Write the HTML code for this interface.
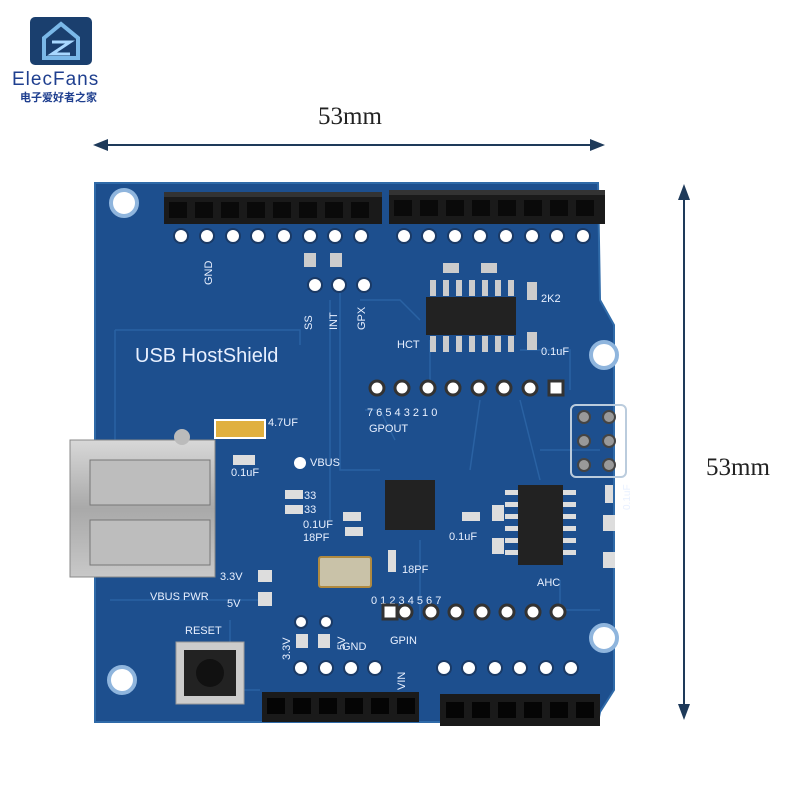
<!DOCTYPE html>
<html><head><meta charset="utf-8"><style>
body{margin:0;background:#fff;width:800px;height:800px;overflow:hidden}
svg{display:block}
text{font-family:"Liberation Sans","Noto Sans CJK SC",sans-serif}
</style></head><body>
<svg width="800" height="800" viewBox="0 0 800 800" xmlns="http://www.w3.org/2000/svg">
<defs>
<linearGradient id="usb" x1="0" x2="0" y1="0" y2="1"><stop offset="0" stop-color="#d8d8d8"/><stop offset="0.5" stop-color="#a9a9a9"/><stop offset="1" stop-color="#c8c8c8"/></linearGradient>
</defs>
<!-- logo -->
<rect x="30" y="17" width="62" height="48" rx="5" fill="#1a3f6e"/>
<path d="M44 38 L61 24 L78 38 L78 58 L44 58 Z" fill="none" stroke="#7ab8e8" stroke-width="4"/>
<path d="M52 42 H70 L52 54 H70" fill="none" stroke="#a8d8ff" stroke-width="3"/>
<text x="12" y="85" font-size="19" fill="#1f3f8f" letter-spacing="1">ElecFans</text>
<text x="20" y="101" font-size="11" fill="#1f3f8f" font-weight="bold">电子爱好者之家</text>
<!-- dimension -->
<text x="350" y="124" font-size="25" text-anchor="middle" fill="#222" style="font-family:'Liberation Serif',serif">53mm</text>
<line x1="98" y1="145" x2="600" y2="145" stroke="#1e3a5a" stroke-width="2"/>
<path d="M93 145 L108 139 L108 151 Z M605 145 L590 139 L590 151 Z" fill="#1e3a5a"/>
<line x1="684" y1="190" x2="684" y2="714" stroke="#1e3a5a" stroke-width="2"/>
<path d="M684 184 L678 200 L690 200 Z M684 720 L678 704 L690 704 Z" fill="#1e3a5a"/>
<text x="738" y="475" font-size="25" text-anchor="middle" fill="#222" style="font-family:'Liberation Serif',serif">53mm</text>
<!-- board -->
<path d="M95 183 L598 183 L600 300 L614 325 L614 690 L600 712 L598 722 L95 722 Z" fill="#1d4f8e"/>
<path d="M95 183 L598 183 L600 300 L614 325 L614 690 L600 712 L598 722 L95 722 Z" fill="none" stroke="#2f6aa8" stroke-width="2"/>
<g fill="none" stroke="#2a62a3" stroke-width="1.5">
<path d="M115 330 H300 V345"/><path d="M115 330 V470"/><path d="M330 300 V520"/><path d="M340 290 V470 H380"/>
<path d="M360 300 L400 300 L420 320"/><path d="M430 340 V380"/><path d="M480 400 L470 470"/><path d="M520 400 L540 480"/>
<path d="M420 540 V620"/><path d="M560 580 V610 H600"/><path d="M110 600 H260"/><path d="M230 620 V690 H260"/>
<path d="M395 440 L380 410 L365 410"/><path d="M520 350 H570 V390"/><path d="M540 450 L600 450"/>
</g>
<!-- mounting holes -->
<g fill="#fff" stroke="#8fb5dd" stroke-width="4">
<circle cx="124" cy="203" r="13"/><circle cx="604" cy="355" r="13"/><circle cx="604" cy="638" r="13"/><circle cx="122" cy="680" r="13"/>
</g>
<!-- top headers -->
<rect x="164" y="196" width="218" height="28" fill="#1a1a1a"/>
<rect x="389" y="194" width="216" height="30" fill="#1a1a1a"/>
<g fill="#333"><rect x="164" y="192" width="218" height="5"/><rect x="389" y="190" width="216" height="5"/></g>
<g fill="#0a0a0a">
<rect x="169" y="202" width="18" height="16"/><rect x="195" y="202" width="18" height="16"/><rect x="221" y="202" width="18" height="16"/><rect x="247" y="202" width="18" height="16"/><rect x="273" y="202" width="18" height="16"/><rect x="299" y="202" width="18" height="16"/><rect x="325" y="202" width="18" height="16"/><rect x="351" y="202" width="18" height="16"/>
<rect x="394" y="200" width="18" height="16"/><rect x="420" y="200" width="18" height="16"/><rect x="446" y="200" width="18" height="16"/><rect x="472" y="200" width="18" height="16"/><rect x="498" y="200" width="18" height="16"/><rect x="524" y="200" width="18" height="16"/><rect x="550" y="200" width="18" height="16"/><rect x="576" y="200" width="18" height="16"/>
</g>
<g fill="#fff" stroke="#1a3a66" stroke-width="2">
<circle cx="181" cy="236" r="7"/><circle cx="207" cy="236" r="7"/><circle cx="233" cy="236" r="7"/><circle cx="258" cy="236" r="7"/><circle cx="284" cy="236" r="7"/><circle cx="310" cy="236" r="7"/><circle cx="335" cy="236" r="7"/><circle cx="361" cy="236" r="7"/>
<circle cx="404" cy="236" r="7"/><circle cx="429" cy="236" r="7"/><circle cx="455" cy="236" r="7"/><circle cx="480" cy="236" r="7"/><circle cx="506" cy="236" r="7"/><circle cx="532" cy="236" r="7"/><circle cx="557" cy="236" r="7"/><circle cx="583" cy="236" r="7"/>
<circle cx="315" cy="285" r="7"/><circle cx="339" cy="285" r="7"/><circle cx="364" cy="285" r="7"/>
</g>
<!-- labels -->
<g fill="#e8f0ff" font-size="11">
<text transform="translate(212,285) rotate(-90)">GND</text>
<text transform="translate(312,330) rotate(-90)">SS</text>
<text transform="translate(337,330) rotate(-90)">INT</text>
<text transform="translate(365,330) rotate(-90)">GPX</text>
<text x="135" y="362" font-size="20">USB HostShield</text>
<text x="397" y="348">HCT</text><text x="541" y="302">2K2</text><text x="541" y="355">0.1uF</text>
<text x="367" y="416">7 6 5   4   3   2   1   0</text><text x="369" y="432">GPOUT</text>
<text x="268" y="426">4.7UF</text><text x="231" y="476">0.1uF</text><text x="310" y="466">VBUS</text>
<text x="304" y="499">33</text><text x="304" y="513">33</text><text x="303" y="528">0.1UF</text><text x="303" y="541">18PF</text>
<text x="449" y="540">0.1uF</text><text x="402" y="573">18PF</text><text x="537" y="586">AHC</text>
<text x="220" y="580">3.3V</text><text x="150" y="600">VBUS PWR</text><text x="227" y="607">5V</text>
<text x="371" y="604">0  1  2   3   4   5   6  7</text><text x="390" y="644">GPIN</text>
<text x="185" y="634">RESET</text><text x="342" y="650">GND</text>
<text transform="translate(290,660) rotate(-90)">3.3V</text><text transform="translate(345,650) rotate(-90)">5V</text>
<text transform="translate(405,690) rotate(-90)">VIN</text>
<text transform="translate(630,510) rotate(-90)" font-size="10">0.1uF</text>
</g>
<!-- HCT chip -->
<rect x="426" y="297" width="90" height="38" fill="#222"/>
<g fill="#ccc"><rect x="430" y="280" width="6" height="16"/><rect x="443" y="280" width="6" height="16"/><rect x="456" y="280" width="6" height="16"/><rect x="469" y="280" width="6" height="16"/><rect x="482" y="280" width="6" height="16"/><rect x="495" y="280" width="6" height="16"/><rect x="508" y="280" width="6" height="16"/>
<rect x="430" y="336" width="6" height="16"/><rect x="443" y="336" width="6" height="16"/><rect x="456" y="336" width="6" height="16"/><rect x="469" y="336" width="6" height="16"/><rect x="482" y="336" width="6" height="16"/><rect x="495" y="336" width="6" height="16"/><rect x="508" y="336" width="6" height="16"/>
<rect x="527" y="282" width="10" height="18"/><rect x="527" y="332" width="10" height="18"/>
<rect x="443" y="263" width="16" height="10"/><rect x="481" y="263" width="16" height="10"/><rect x="304" y="253" width="12" height="14"/><rect x="330" y="253" width="12" height="14"/>
</g>
<!-- GPOUT pins -->
<g fill="#fff" stroke="#333" stroke-width="3">
<circle cx="377" cy="388" r="7"/><circle cx="402" cy="388" r="7"/><circle cx="428" cy="388" r="7"/><circle cx="453" cy="388" r="7"/><circle cx="479" cy="388" r="7"/><circle cx="504" cy="388" r="7"/><circle cx="530" cy="388" r="7"/><rect x="549" y="381" width="14" height="14"/>
<rect x="383" y="605" width="14" height="14"/><circle cx="405" cy="612" r="7"/><circle cx="431" cy="612" r="7"/><circle cx="456" cy="612" r="7"/><circle cx="482" cy="612" r="7"/><circle cx="507" cy="612" r="7"/><circle cx="533" cy="612" r="7"/><circle cx="558" cy="612" r="7"/>
</g>
<!-- ICSP -->
<rect x="571" y="405" width="55" height="72" rx="5" fill="none" stroke="#bcd" stroke-width="2"/>
<g fill="#999" stroke="#444" stroke-width="2"><circle cx="584" cy="417" r="6"/><circle cx="609" cy="417" r="6"/><circle cx="584" cy="441" r="6"/><circle cx="609" cy="441" r="6"/><circle cx="584" cy="465" r="6"/><circle cx="609" cy="465" r="6"/></g>
<!-- MAX chip -->
<rect x="385" y="480" width="50" height="50" fill="#222"/>
<!-- AHC chip -->
<rect x="518" y="485" width="45" height="80" fill="#222"/>
<g fill="#ddd"><rect x="505" y="490" width="13" height="5"/><rect x="505" y="502" width="13" height="5"/><rect x="505" y="514" width="13" height="5"/><rect x="505" y="526" width="13" height="5"/><rect x="505" y="538" width="13" height="5"/><rect x="505" y="550" width="13" height="5"/>
<rect x="563" y="490" width="13" height="5"/><rect x="563" y="502" width="13" height="5"/><rect x="563" y="514" width="13" height="5"/><rect x="563" y="526" width="13" height="5"/><rect x="563" y="538" width="13" height="5"/><rect x="563" y="550" width="13" height="5"/>
<rect x="605" y="485" width="8" height="18"/><rect x="603" y="515" width="12" height="16"/><rect x="603" y="552" width="12" height="16"/>
<rect x="492" y="505" width="12" height="16"/><rect x="492" y="538" width="12" height="16"/>
<rect x="285" y="490" width="18" height="9"/><rect x="285" y="505" width="18" height="9"/><rect x="343" y="512" width="18" height="9"/><rect x="345" y="527" width="18" height="9"/><rect x="462" y="512" width="18" height="9"/><rect x="388" y="550" width="8" height="22"/>
<rect x="233" y="455" width="22" height="10"/><rect x="258" y="570" width="14" height="12"/><rect x="258" y="592" width="14" height="14"/><rect x="296" y="634" width="12" height="14"/><rect x="318" y="634" width="12" height="14"/>
</g>
<!-- crystal -->
<rect x="319" y="557" width="52" height="30" rx="2" fill="#c9c2a8" stroke="#b08a40" stroke-width="2"/>
<!-- tantalum -->
<rect x="215" y="420" width="50" height="18" fill="#e0b040" stroke="#fff" stroke-width="2"/>
<circle cx="300" cy="463" r="6" fill="#fff"/>
<!-- USB -->
<rect x="70" y="440" width="145" height="137" fill="url(#usb)" stroke="#888"/>
<rect x="90" y="460" width="120" height="45" fill="#bdbdbd" stroke="#777"/>
<rect x="90" y="520" width="120" height="45" fill="#bdbdbd" stroke="#777"/>
<circle cx="182" cy="437" r="8" fill="#bbb"/>
<!-- reset -->
<rect x="176" y="642" width="68" height="62" fill="#ccc" stroke="#999"/>
<rect x="184" y="650" width="52" height="46" fill="#222"/>
<circle cx="210" cy="673" r="14" fill="#111"/>
<!-- bottom pins -->
<g fill="#fff" stroke="#1a3a66" stroke-width="2">
<circle cx="301" cy="622" r="6"/><circle cx="326" cy="622" r="6"/>
<circle cx="301" cy="668" r="7"/><circle cx="326" cy="668" r="7"/><circle cx="351" cy="668" r="7"/><circle cx="375" cy="668" r="7"/>
<circle cx="444" cy="668" r="7"/><circle cx="469" cy="668" r="7"/><circle cx="495" cy="668" r="7"/><circle cx="520" cy="668" r="7"/><circle cx="546" cy="668" r="7"/><circle cx="571" cy="668" r="7"/>
</g>
<rect x="262" y="692" width="157" height="30" fill="#1a1a1a"/>
<rect x="440" y="694" width="160" height="32" fill="#1a1a1a"/>
<g fill="#050505">
<rect x="267" y="698" width="18" height="16"/><rect x="293" y="698" width="18" height="16"/><rect x="319" y="698" width="18" height="16"/><rect x="345" y="698" width="18" height="16"/><rect x="371" y="698" width="18" height="16"/><rect x="397" y="698" width="18" height="16"/>
<rect x="446" y="702" width="18" height="16"/><rect x="472" y="702" width="18" height="16"/><rect x="498" y="702" width="18" height="16"/><rect x="524" y="702" width="18" height="16"/><rect x="550" y="702" width="18" height="16"/><rect x="576" y="702" width="18" height="16"/>
</g>
</svg>
</body></html>
